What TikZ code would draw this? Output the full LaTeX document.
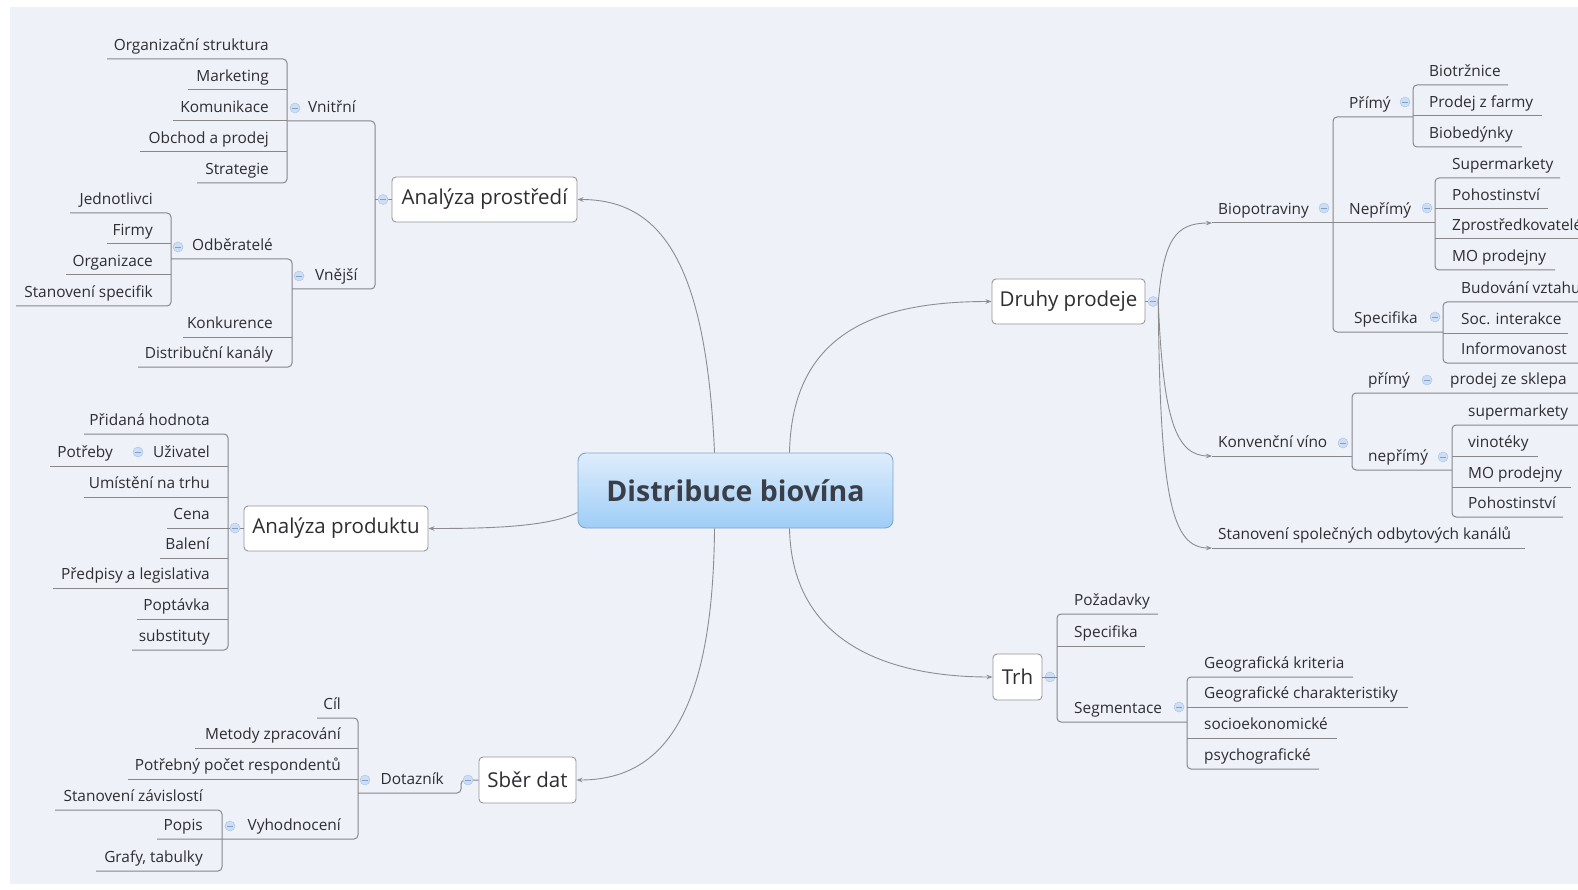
\documentclass[tikz,border=0pt]{standalone}
\usepackage{fontspec}
\setmainfont{Open Sans}
\usetikzlibrary{arrows.meta}
\definecolor{bg}{RGB}{238,241,248}
\definecolor{lc}{RGB}{135,135,140}
\definecolor{cc}{RGB}{140,140,145}
\definecolor{bc}{RGB}{150,150,155}
\definecolor{tc}{RGB}{45,45,50}
\definecolor{mkf}{RGB}{205,222,244}
\definecolor{mkd}{RGB}{175,198,230}
\definecolor{mkm}{RGB}{130,160,205}
\definecolor{mtop}{RGB}{222,237,252}
\definecolor{mbot}{RGB}{158,205,246}
\definecolor{mdr}{RGB}{125,165,205}
\definecolor{mtx}{RGB}{58,62,72}
\newcommand\leaff{\fontsize{15.4}{18}\selectfont}
\newcommand\boxff{\fontsize{20.5}{24}\selectfont}
\tikzset{
 ln/.style={draw=lc, line width=1pt},
 br/.style={ln, rounded corners=4pt},
 lt/.style={anchor=base east, inner sep=0pt, font=\leaff, text=tc},
 rt/.style={anchor=base west, inner sep=0pt, font=\leaff, text=tc},
 mk/.style={circle, minimum size=10pt, inner sep=0pt, fill=mkf, draw=mkd, line width=0.5pt,
   path picture={\draw[mkm, line width=0.9pt] ([xshift=-2.6pt]path picture bounding box.center) -- ([xshift=2.6pt]path picture bounding box.center);}},
 topic/.style={draw=bc, fill=white, rounded corners=4pt, line width=0.9pt, inner sep=0pt, font=\boxff, text=tc},
 cv/.style={draw=cc, line width=0.9pt, -{Stealth[length=6pt,width=4.5pt]}},
}
\begin{document}
\begin{tikzpicture}[x=1pt,y=-1pt]
\useasboundingbox (0,0) rectangle (1578,890);
\fill[white] (0,0) rectangle (1578,890);
\fill[bg] (10,7) rectangle (1578,884);

% ---------- central topic ----------
\node[draw=mdr, line width=0.9pt, rounded corners=8pt, top color=mtop, bottom color=mbot,
  minimum width=315pt, minimum height=75pt, inner sep=0pt,
  font=\fontsize{28.5}{32}\selectfont\bfseries, text=mtx] (M) at (735.5,490.5) {Distribuce biovína};

% ---------- main topics ----------
\node[topic, minimum width=185pt, minimum height=45pt] (AP) at (484.5,199.5) {Analýza prostředí};
\node[topic, minimum width=184pt, minimum height=45pt] (AD) at (336,528.5) {Analýza produktu};
\node[topic, minimum width=97pt, minimum height=46pt] (SD) at (527.5,780) {Sběr dat};
\node[topic, minimum width=153pt, minimum height=45pt] (DP) at (1068.5,301.5) {Druhy prodeje};
\node[topic, minimum width=49pt, minimum height=46pt] (TR) at (1017.5,677) {Trh};

\draw[cv] ([xshift=-21pt]M.north) .. controls (706,260) and (660,199.5) .. (AP.east);
\draw[cv] ([xshift=54pt]M.north) .. controls (792,330) and (880,301.5) .. (DP.west);
\draw[cv] ([yshift=-22pt]M.west) .. controls (548,527) and (490,528.5) .. (AD.east);
\draw[cv] ([xshift=-21pt]M.south) .. controls (713,720) and (660,780) .. (SD.east);
\draw[cv] ([xshift=54pt]M.south) .. controls (792,650) and (900,677) .. (TR.west);

% ---------- Analýza prostředí ----------
\coordinate (apb) at (375,199.5);
\draw[ln] (apb) -- (AP.west);
\node[mk] (mAP) at (383,199.5) {};
\draw[br] (287,121) -- (375,121) -- (375,289) -- (292,289);
\node[rt] (vni) at (308,112.5) {Vnitřní};
\node[mk] at (295,108) {};
\node[rt] (vne) at (315,280.5) {Vnější};
\node[mk] at (299,276) {};
% Vnitřní children
\draw[br] (107,59) -| (287,183) -- (197,183);
\draw[ln] (188,90) -- (287,90);
\draw[ln] (173,121) -- (287,121);
\draw[ln] (140,152) -- (287,152);
\node[lt] (os) at (269,50.5) {Organizační struktura};
\node[lt] (mkt) at (269,81.5) {Marketing};
\node[lt] (kom) at (269,112.5) {Komunikace};
\node[lt] (obp) at (269,143.5) {Obchod a prodej};
\node[lt] (str) at (269,174.5) {Strategie};
% Vnější children
\draw[br] (171,259) -| (292,367) -- (138,367);
\draw[ln] (183,337) -- (292,337);
\node[lt] (odb) at (273,250.5) {Odběratelé};
\node[mk] at (178,247) {};
\node[lt] (kon) at (273,328.5) {Konkurence};
\node[lt] (dk) at (273,358.5) {Distribuční kanály};
% Odběratelé children
\draw[br] (70,213) -| (171,306) -- (16,306);
\draw[ln] (107,244) -- (171,244);
\draw[ln] (66,275) -- (171,275);
\node[lt] (jed) at (153,204.5) {Jednotlivci};
\node[lt] (fir) at (153,235.5) {Firmy};
\node[lt] (org) at (153,266.5) {Organizace};
\node[lt] (sts) at (153,297.5) {Stanovení specifik};

% ---------- Analýza produktu ----------
\draw[ln] (228,528.5) -- (AD.west);
\node[mk] (mAD) at (235,528) {};
\draw[br] (84,434) -| (228,650) -- (132,650);
\draw[ln] (50,466) -- (228,466);
\draw[ln] (84,497) -- (228,497);
\draw[ln] (167,528) -- (228,528);
\draw[ln] (160,558) -- (228,558);
\draw[ln] (53,588) -- (228,588);
\draw[ln] (137,619) -- (228,619);
\node[lt] (ph) at (210,425.5) {Přidaná hodnota};
\node[lt] (uz) at (210,457.5) {Uživatel};
\node[mk] at (138,452) {};
\node[lt] (pot) at (113,457.5) {Potřeby};
\node[lt] (unt) at (210,488.5) {Umístění na trhu};
\node[lt] (cen) at (210,519.5) {Cena};
\node[lt] (bal) at (210,549.5) {Balení};
\node[lt] (pal) at (210,579.5) {Předpisy a legislativa};
\node[lt] (pop) at (210,610.5) {Poptávka};
\node[lt] (sub) at (210,641.5) {substituty};

% ---------- Sběr dat ----------
\draw[br] (358,793) -- (461,793) -- (461,780) -- (SD.west);
\node[mk] (mSD) at (468,780) {};
\node[lt] (dot) at (444,784.5) {Dotazník};
\node[mk] at (365,780) {};
\draw[br] (317,718) -| (358,839) -- (157,839);
\draw[ln] (195,748) -- (358,748);
\draw[ln] (128,779) -- (358,779);
\node[lt] (cil) at (341,709.5) {Cíl};
\node[lt] (mzp) at (341,739.5) {Metody zpracování};
\node[lt] (ppr) at (341,770.5) {Potřebný počet respondentů};
\node[lt] (vyh) at (341,830.5) {Vyhodnocení};
\node[mk] at (230,826) {};
\draw[br] (55,810) -| (222,871) -- (96,871);
\node[lt] (stz) at (203,801.5) {Stanovení závislostí};
\node[lt] (pps) at (203,830.5) {Popis};
\node[lt] (gt) at (203,862.5) {Grafy, tabulky};

% ---------- Druhy prodeje ----------
\node[mk] (mDP) at (1153,301.5) {};
\draw[ln] (DP.east) -- (mDP);
\coordinate (bpS) at (1212,223);
\coordinate (kvS) at (1212,456);
\coordinate (ssS) at (1212,548);
\draw[cv] (mDP.east) .. controls (1164,240) and (1175,223) .. (bpS);
\draw[cv] (mDP.east) .. controls (1163,420) and (1176,456) .. (kvS);
\draw[cv] (mDP.east) .. controls (1160,500) and (1172,548) .. (ssS);
% Biopotraviny
\draw[ln] (bpS) -- (1435,223);
\node[rt] (bio) at (1218,214.5) {Biopotraviny};
\node[mk] at (1324,208) {};
\draw[br] (1413,117) -| (1333,332) -- (1443,332);
\node[rt] (pri) at (1349,108.5) {Přímý};
\node[mk] at (1405,102) {};
\node[rt] (nep) at (1349,214.5) {Nepřímý};
\node[mk] at (1427,208) {};
\node[rt] (spe) at (1354,323.5) {Specifika};
\node[mk] at (1435,317) {};
\draw[br] (1508,85) -| (1413,147) -- (1522,147);
\draw[ln] (1413,116) -- (1542,116);
\node[rt] (btr) at (1429,76.5) {Biotržnice};
\node[rt] (pzf) at (1429,107.5) {Prodej z farmy};
\node[rt] (bbd) at (1429,138.5) {Biobedýnky};
\draw[br] (1560,178) -| (1435,270) -- (1555,270);
\draw[ln] (1435,209) -- (1548,209);
\draw[ln] (1435,239) -- (1580,239);
\node[rt] (sup) at (1452,169.5) {Supermarkety};
\node[rt] (poh) at (1452,200.5) {Pohostinství};
\node[rt] (zpr) at (1452,230.5) {Zprostředkovatelé};
\node[rt] (mop) at (1452,261.5) {MO prodejny};
\draw[br] (1580,302) -| (1443,363) -- (1580,363);
\draw[ln] (1443,333) -- (1568,333);
\node[rt] (bvz) at (1461,293.5) {Budování vztahu};
\node[rt] (soc) at (1461,324.5) {Soc. interakce};
\node[rt] (inf) at (1461,354.5) {Informovanost};
% Konvenční víno
\draw[ln] (kvS) -- (1352,456);
\node[rt] (kv) at (1218,447.5) {Konvenční víno};
\node[mk] at (1343,443) {};
\draw[br] (1580,393) -| (1352,470) -- (1452,470);
\node[rt] (kpr) at (1368,384.5) {přímý};
\node[mk] at (1427,380) {};
\node[rt] (pzs) at (1450,384.5) {prodej ze sklepa};
\node[rt] (knp) at (1368,461.5) {nepřímý};
\node[mk] at (1443,457) {};
\draw[br] (1580,425) -| (1452,517) -- (1563,517);
\draw[ln] (1452,456) -- (1538,456);
\draw[ln] (1452,487) -- (1571,487);
\node[rt] (ksu) at (1468,416.5) {supermarkety};
\node[rt] (kvi) at (1468,447.5) {vinotéky};
\node[rt] (kmo) at (1468,478.5) {MO prodejny};
\node[rt] (kpo) at (1468,508.5) {Pohostinství};
% Stanovení
\draw[ln] (ssS) -- (1525,548);
\node[rt] (sok) at (1218,539.5) {Stanovení společných odbytových kanálů};

% ---------- Trh ----------
\node[mk] (mTR) at (1050,677) {};
\draw[ln] (TR.east) -- (1057,677);
\draw[br] (1158,614) -| (1057,722) -- (1187,722);
\draw[ln] (1057,646) -- (1145,646);
\node[rt] (poz) at (1074,605.5) {Požadavky};
\node[rt] (tsp) at (1074,637.5) {Specifika};
\node[rt] (seg) at (1074,713.5) {Segmentace};
\node[mk] at (1179,707) {};
\draw[br] (1353,677) -| (1187,769) -- (1319,769);
\draw[ln] (1187,707) -- (1408,707);
\draw[ln] (1187,738) -- (1337,738);
\node[rt] (gk) at (1204,668.5) {Geografická kriteria};
\node[rt] (gch) at (1204,698.5) {Geografické charakteristiky};
\node[rt] (soe) at (1204,729.5) {socioekonomické};
\node[rt] (psy) at (1204,760.5) {psychografické};
\end{tikzpicture}
\end{document}
